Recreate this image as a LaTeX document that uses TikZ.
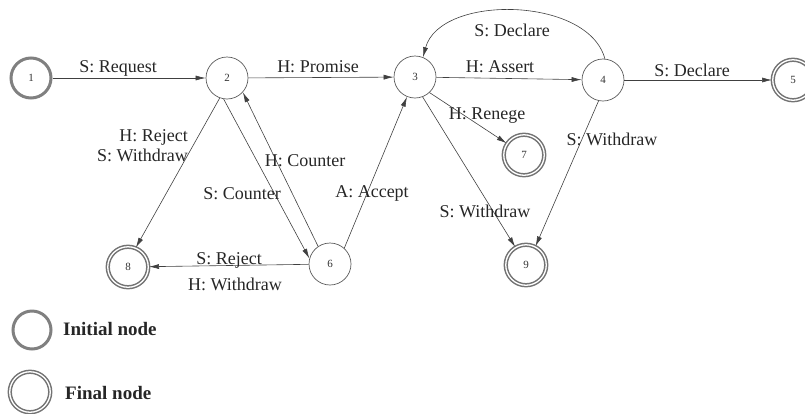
\documentclass[tikz,border=0pt]{standalone}
\usepackage{fontspec}
\setmainfont{Liberation Serif}
\usetikzlibrary{arrows.meta}
\begin{document}
\begin{tikzpicture}[x=1pt,y=-1pt,
  numfont/.style={font=\fontsize{11}{11}\selectfont,text=black!80},
  st/.style={circle,draw=black!65,line width=0.7pt,minimum size=42pt,inner sep=0pt,numfont},
  initst/.style={circle,draw=black!50,line width=3pt,minimum size=40pt,inner sep=0pt,numfont},
  finst/.style={circle,draw=black!55,line width=1.5pt,double=white,double distance=1.3pt,minimum size=40.5pt,inner sep=0pt,numfont},
  lbl/.style={font=\fontsize{18}{20}\selectfont,text=black!85,inner sep=0pt},
  leg/.style={font=\bfseries\fontsize{19}{20}\selectfont,text=black!85,inner sep=0pt,anchor=west},
  tr/.style={draw=black!75,line width=0.6pt,-{Latex[length=10pt,width=5pt]}},
]
\useasboundingbox (0,0) rectangle (805,413);
% states
\node[initst] (n1) at (31,78) {1};
\node[st] (n2) at (227,78) {2};
\node[st] (n3) at (415,77) {3};
\node[st] (n4) at (603,80) {4};
\node[finst] (n5) at (793,80) {5};
\node[st] (n6) at (330,264) {6};
\node[finst] (n7) at (524,155) {7};
\node[finst] (n8) at (128,267) {8};
\node[finst] (n9) at (526,265) {9};
% transitions
\draw[tr] (n1) -- (n2);
\draw[tr] (n2) -- (n3);
\draw[tr] (n3) -- (n4);
\draw[tr] (n4) -- (n5);
\draw[tr] (n4.85) .. controls (588,-4) and (440,-6) .. (n3.68);
\draw[tr] (n3.-47) -- (n7.146);
\draw[tr] (n3.-69) -- (n9.121);
\draw[tr] (n4.-102) -- (n9.63);
\draw[tr] (n2.-110) -- (n8.68);
\draw[tr] (n2.-99) -- (n6.165);
\draw[tr] (n6.124) -- (n2.-42);
\draw[tr] (n6.48) -- (n3.-112);
\draw[tr] (n6) -- (n8);
% labels
\node[lbl] (l12) at (118,68) {S: Request};
\node[lbl] (l23) at (318,67) {H: Promise};
\node[lbl] (l34) at (500,67) {H: Assert};
\node[lbl] (l45) at (692,70) {S: Declare};
\node[lbl] (l43) at (512,30) {S: Declare};
\node[lbl] (l37) at (487,116) {H: Renege};
\node[lbl] (l39) at (485,211) {S: Withdraw};
\node[lbl] (l49) at (612,139) {S: Withdraw};
\node[lbl,align=right,anchor=east] (l28) at (188,146) {H: Reject\\S: Withdraw};
\node[lbl] (l62) at (305,161) {H: Counter};
\node[lbl] (l26) at (242,194) {S: Counter};
\node[lbl] (l63) at (372,193) {A: Accept};
\node[lbl] (l68a) at (229,260) {S: Reject};
\node[lbl] (l68b) at (235,284) {H: Withdraw};
% legend
\node[initst,minimum size=38pt] (li) at (32,330) {};
\node[leg] (lit) at (63,329) {Initial node};
\node[finst] (lf) at (30,392) {};
\node[leg] (lft) at (65,393) {Final node};
\end{tikzpicture}
\end{document}
